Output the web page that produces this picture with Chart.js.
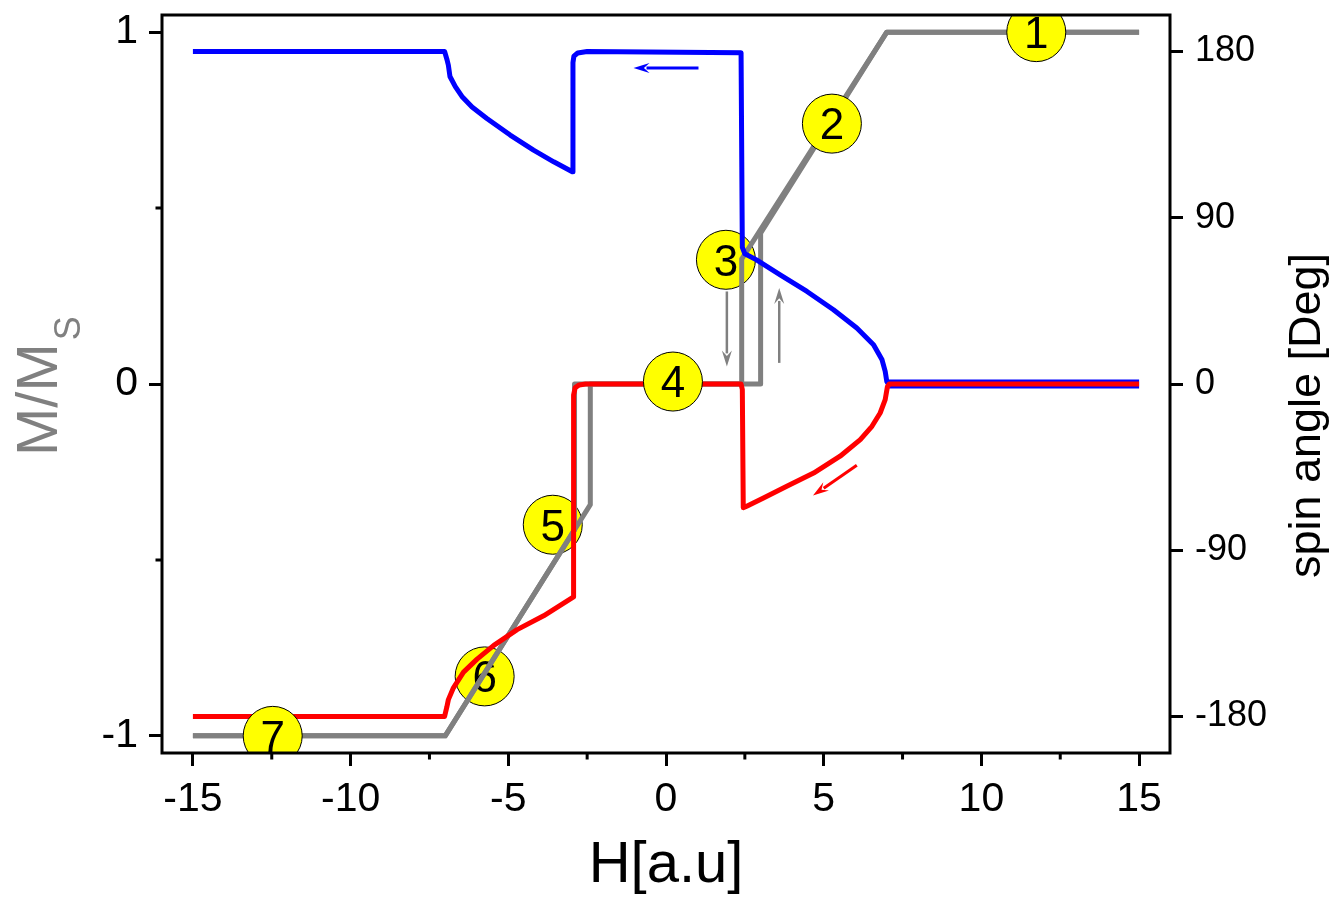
<!DOCTYPE html>
<html>
<head>
<meta charset="utf-8">
<script src="https://cdn.jsdelivr.net/npm/chart.js@4.4.1/dist/chart.umd.min.js"></script>
<style>
  html, body { margin: 0; padding: 0; background: #ffffff; }
  #wrap { width: 1335px; height: 899px; }
</style>
</head>
<body>
<div id="wrap"><canvas id="chart" width="1335" height="899"></canvas></div>
<script>
// ---- axis ticks ----
const H_TICKS = [-15, -10, -5, 0, 5, 10, 15];
const H_MINOR = [-12.5, -7.5, -2.5, 2.5, 7.5, 12.5];
const M_TICKS = [-1, 0, 1];
const M_MINOR = [-0.5, 0.5];
const ANGLE_TICKS = [-180, -90, 0, 90, 180];

// ---- magnetisation M/Ms (left axis) ----
// field sweeping down from +15
const grayDownH = [15, 7, 2.4, 2.4, -2.9, -2.9, -7, -15];
const grayDownM = [1, 1, 0.355, 0, 0, -0.414, -1, -1];
// field sweeping up from -15
const grayUpH = [-15, -7, -2.4, -2.4, 3.0, 3.0, 7, 15];
const grayUpM = [-1, -1, -0.343, 0, 0, 0.429, 1, 1];

// ---- spin angles in degrees (right axis) ----
const blueH = [-15, -7.02, -6.95, -6.9, -6.85, -6.68, -6.47, -6.15, -5.68, -4.94, -4.2, -3.56, -2.97,
               -2.95, -2.92, -2.8, -2.5,
               2.38, 2.42, 2.5, 2.87, 3.62, 4.47, 5.31, 6.05, 6.58, 6.85, 6.95, 7.0, 7.05, 15];
const blueAngle = [180, 180, 176, 172.6, 166.5, 161, 155.7, 150, 143.8, 134.8, 126.6, 120.3, 114.9,
                   174, 177.5, 179.2, 180,
                   179.4, 74, 70.5, 67.2, 59.1, 50.1, 40.2, 30.3, 21.3, 13.1, 6.8, 1.4, 0, 0];

const redH = [-15, -7.02, -6.95, -6.9, -6.74, -6.42, -5.99, -5.46, -4.72, -3.88, -2.93,
              -2.93, -2.88, -2.75, -2.55,
              2.38, 2.42, 2.45, 2.56, 3.09, 3.83, 4.68, 5.52, 6.16, 6.53, 6.79, 6.95, 7.02, 7.08, 15];
const redAngle = [-180, -180, -175, -170.9, -164.5, -156, -149, -141.5, -133, -125.5, -115.3,
                  -6, -2, -0.5, 0,
                  0, -3, -67, -66.2, -61.7, -55.4, -48.2, -39.1, -30.1, -22.9, -15.7, -8.5, -1.5, 0, 0];

// ---- numbered state markers (left axis units) ----
const markerLabels = ['1', '2', '3', '4', '5', '6', '7'];
const markerH = [11.74, 5.26, 1.9, 0.22, -3.59, -5.75, -12.47];
const markerM = [1.0, 0.74, 0.353, 0.007, -0.40, -0.831, -1.0];
const markerOnTop = [true, true, false, true, false, false, true];

// ---- sweep-direction arrows (left axis units) ----
const arrowFromH = [1.03, 6.05, 1.93, 3.59];
const arrowFromM = [0.898, -0.231, 0.263, 0.06];
const arrowToH = [-1.03, 4.66, 1.93, 3.59];
const arrowToM = [0.898, -0.317, 0.05, 0.273];
const arrowColors = ['#0000ff', '#ff0000', '#808080', '#808080'];
const arrowWidths = [3, 3, 2.5, 2.5];

const FONT = "'Liberation Sans', Arial, Helvetica, sans-serif";
Chart.defaults.font.family = FONT;

const pts = (xs, ys) => xs.map((x, i) => ({ x: x, y: ys[i] }));

function markerSet(top) {
  const idx = markerLabels.map((_, i) => i).filter(i => markerOnTop[i] === top);
  return {
    data: idx.map(i => ({ x: markerH[i], y: markerM[i] })),
    circleText: idx.map(i => markerLabels[i]),
    yAxisID: 'y',
    showLine: false,
    pointRadius: 29.5,
    pointHoverRadius: 29.5,
    pointBackgroundColor: '#ffff00',
    pointBorderColor: '#000000',
    pointBorderWidth: 1,
    order: top ? 0 : 5
  };
}

function lineSet(data, axis, color, order, width) {
  return {
    data: data,
    yAxisID: axis,
    showLine: true,
    borderColor: color,
    backgroundColor: color,
    borderWidth: width,
    borderJoinStyle: 'round',
    borderCapStyle: 'butt',
    pointRadius: 0,
    tension: 0,
    fill: false,
    order: order
  };
}

const blueSet = lineSet(pts(blueH, blueAngle), 'yR', '#0000ff', 2, 5);
blueSet.segment = {
  borderWidth: ctx => (ctx.p0.parsed.y === 0 && ctx.p1.parsed.y === 0) ? 9 : undefined
};

function noPad(s) {
  s.paddingTop = 0; s.paddingBottom = 0; s.paddingLeft = 0; s.paddingRight = 0;
}

const extras = {
  id: 'extras',
  afterDatasetDraw(chart, args) {
    const ds = chart.data.datasets[args.index];
    if (!ds.circleText) return;
    const ctx = chart.ctx;
    ctx.save();
    ctx.fillStyle = '#000000';
    ctx.font = '44px ' + FONT;
    ctx.textAlign = 'center';
    ctx.textBaseline = 'alphabetic';
    args.meta.data.forEach((el, i) => {
      ctx.fillText(ds.circleText[i], el.x, el.y + 15.8);
    });
    ctx.restore();
  },
  afterDraw(chart) {
    const ctx = chart.ctx;
    const a = chart.chartArea;
    const sx = chart.scales.x, sy = chart.scales.y;
    ctx.save();
    // frame
    ctx.strokeStyle = '#000000';
    ctx.lineWidth = 3;
    ctx.strokeRect(a.left, a.top, a.right - a.left, a.bottom - a.top);
    // minor ticks
    ctx.beginPath();
    H_MINOR.forEach(v => {
      const px = sx.getPixelForValue(v);
      ctx.moveTo(px, a.bottom);
      ctx.lineTo(px, a.bottom + 6.5);
    });
    M_MINOR.forEach(v => {
      const py = sy.getPixelForValue(v);
      ctx.moveTo(a.left, py);
      ctx.lineTo(a.left - 6.5, py);
    });
    ctx.stroke();
    // arrows
    arrowFromH.forEach((h, i) => {
      const x1 = sx.getPixelForValue(h), y1 = sy.getPixelForValue(arrowFromM[i]);
      const x2 = sx.getPixelForValue(arrowToH[i]), y2 = sy.getPixelForValue(arrowToM[i]);
      const ang = Math.atan2(y2 - y1, x2 - x1);
      const hl = 16, hw = 5;
      const bx = x2 - hl * Math.cos(ang), by = y2 - hl * Math.sin(ang);
      ctx.strokeStyle = arrowColors[i];
      ctx.fillStyle = arrowColors[i];
      ctx.lineWidth = arrowWidths[i];
      ctx.beginPath();
      ctx.moveTo(x1, y1);
      ctx.lineTo(bx + 3 * Math.cos(ang), by + 3 * Math.sin(ang));
      ctx.stroke();
      ctx.beginPath();
      ctx.moveTo(x2, y2);
      ctx.lineTo(bx - hw * Math.sin(ang), by + hw * Math.cos(ang));
      ctx.lineTo(bx + 0.35 * hl * Math.cos(ang), by + 0.35 * hl * Math.sin(ang));
      ctx.lineTo(bx + hw * Math.sin(ang), by - hw * Math.cos(ang));
      ctx.closePath();
      ctx.fill();
    });
    // left axis title M/M with subscript S
    ctx.fillStyle = '#808080';
    ctx.textAlign = 'left';
    ctx.textBaseline = 'alphabetic';
    ctx.translate(56.7, 456);
    ctx.rotate(-Math.PI / 2);
    ctx.font = '58px ' + FONT;
    ctx.fillText('M/M', 0, 0);
    const w = ctx.measureText('M/M').width;
    ctx.font = '36px ' + FONT;
    ctx.fillText('S', w + 3, 23.3);
    ctx.setTransform(1, 0, 0, 1, 0, 0);
    // right axis title
    ctx.fillStyle = '#000000';
    ctx.textAlign = 'center';
    ctx.font = '45px ' + FONT;
    ctx.translate(1320, 415.5);
    ctx.rotate(-Math.PI / 2);
    ctx.fillText('spin angle [Deg]', 0, 0);
    ctx.restore();
  }
};

const tickGrid = {
  display: true,
  drawOnChartArea: false,
  drawTicks: true,
  tickLength: 13,
  tickWidth: 3,
  tickColor: '#000000'
};

new Chart(document.getElementById('chart'), {
  type: 'scatter',
  data: {
    datasets: [
      markerSet(true),
      lineSet(pts(redH, redAngle), 'yR', '#ff0000', 1, 5),
      blueSet,
      lineSet(pts(grayDownH, grayDownM), 'y', '#808080', 3, 5),
      lineSet(pts(grayUpH, grayUpM), 'y', '#808080', 4, 5),
      markerSet(false)
    ]
  },
  options: {
    responsive: false,
    animation: false,
    devicePixelRatio: 1,
    layout: { autoPadding: false, padding: { top: 15, left: 0, right: 0, bottom: 0 } },
    plugins: { legend: { display: false }, tooltip: { enabled: false } },
    events: [],
    scales: {
      x: {
        type: 'linear',
        position: 'bottom',
        min: -15.98,
        max: 15.98,
        afterBuildTicks: s => { s.ticks = H_TICKS.map(v => ({ value: v })); },
        afterFit: s => { s.height = 146; noPad(s); },
        ticks: { autoSkip: false, maxRotation: 0, color: '#000000', font: { size: 41 }, padding: 9 },
        grid: tickGrid,
        border: { display: false },
        title: { display: true, text: 'H[a.u]', color: '#000000', font: { size: 58, lineHeight: 1 }, padding: { top: 0, bottom: 4 } }
      },
      y: {
        type: 'linear',
        position: 'left',
        min: -1.0487,
        max: 1.0487,
        afterBuildTicks: s => { s.ticks = M_TICKS.map(v => ({ value: v })); },
        afterFit: s => { s.width = 162; noPad(s); },
        ticks: { autoSkip: false, color: '#000000', font: { size: 41 }, padding: 11 },
        grid: tickGrid,
        border: { display: false }
      },
      yR: {
        type: 'linear',
        position: 'right',
        min: -199.8,
        max: 199.8,
        afterBuildTicks: s => { s.ticks = ANGLE_TICKS.map(v => ({ value: v })); },
        afterFit: s => { s.width = 165; noPad(s); },
        ticks: { autoSkip: false, color: '#000000', font: { size: 36 }, padding: 12 },
        grid: tickGrid,
        border: { display: false }
      }
    }
  },
  plugins: [extras]
});
</script>
</body>
</html>
